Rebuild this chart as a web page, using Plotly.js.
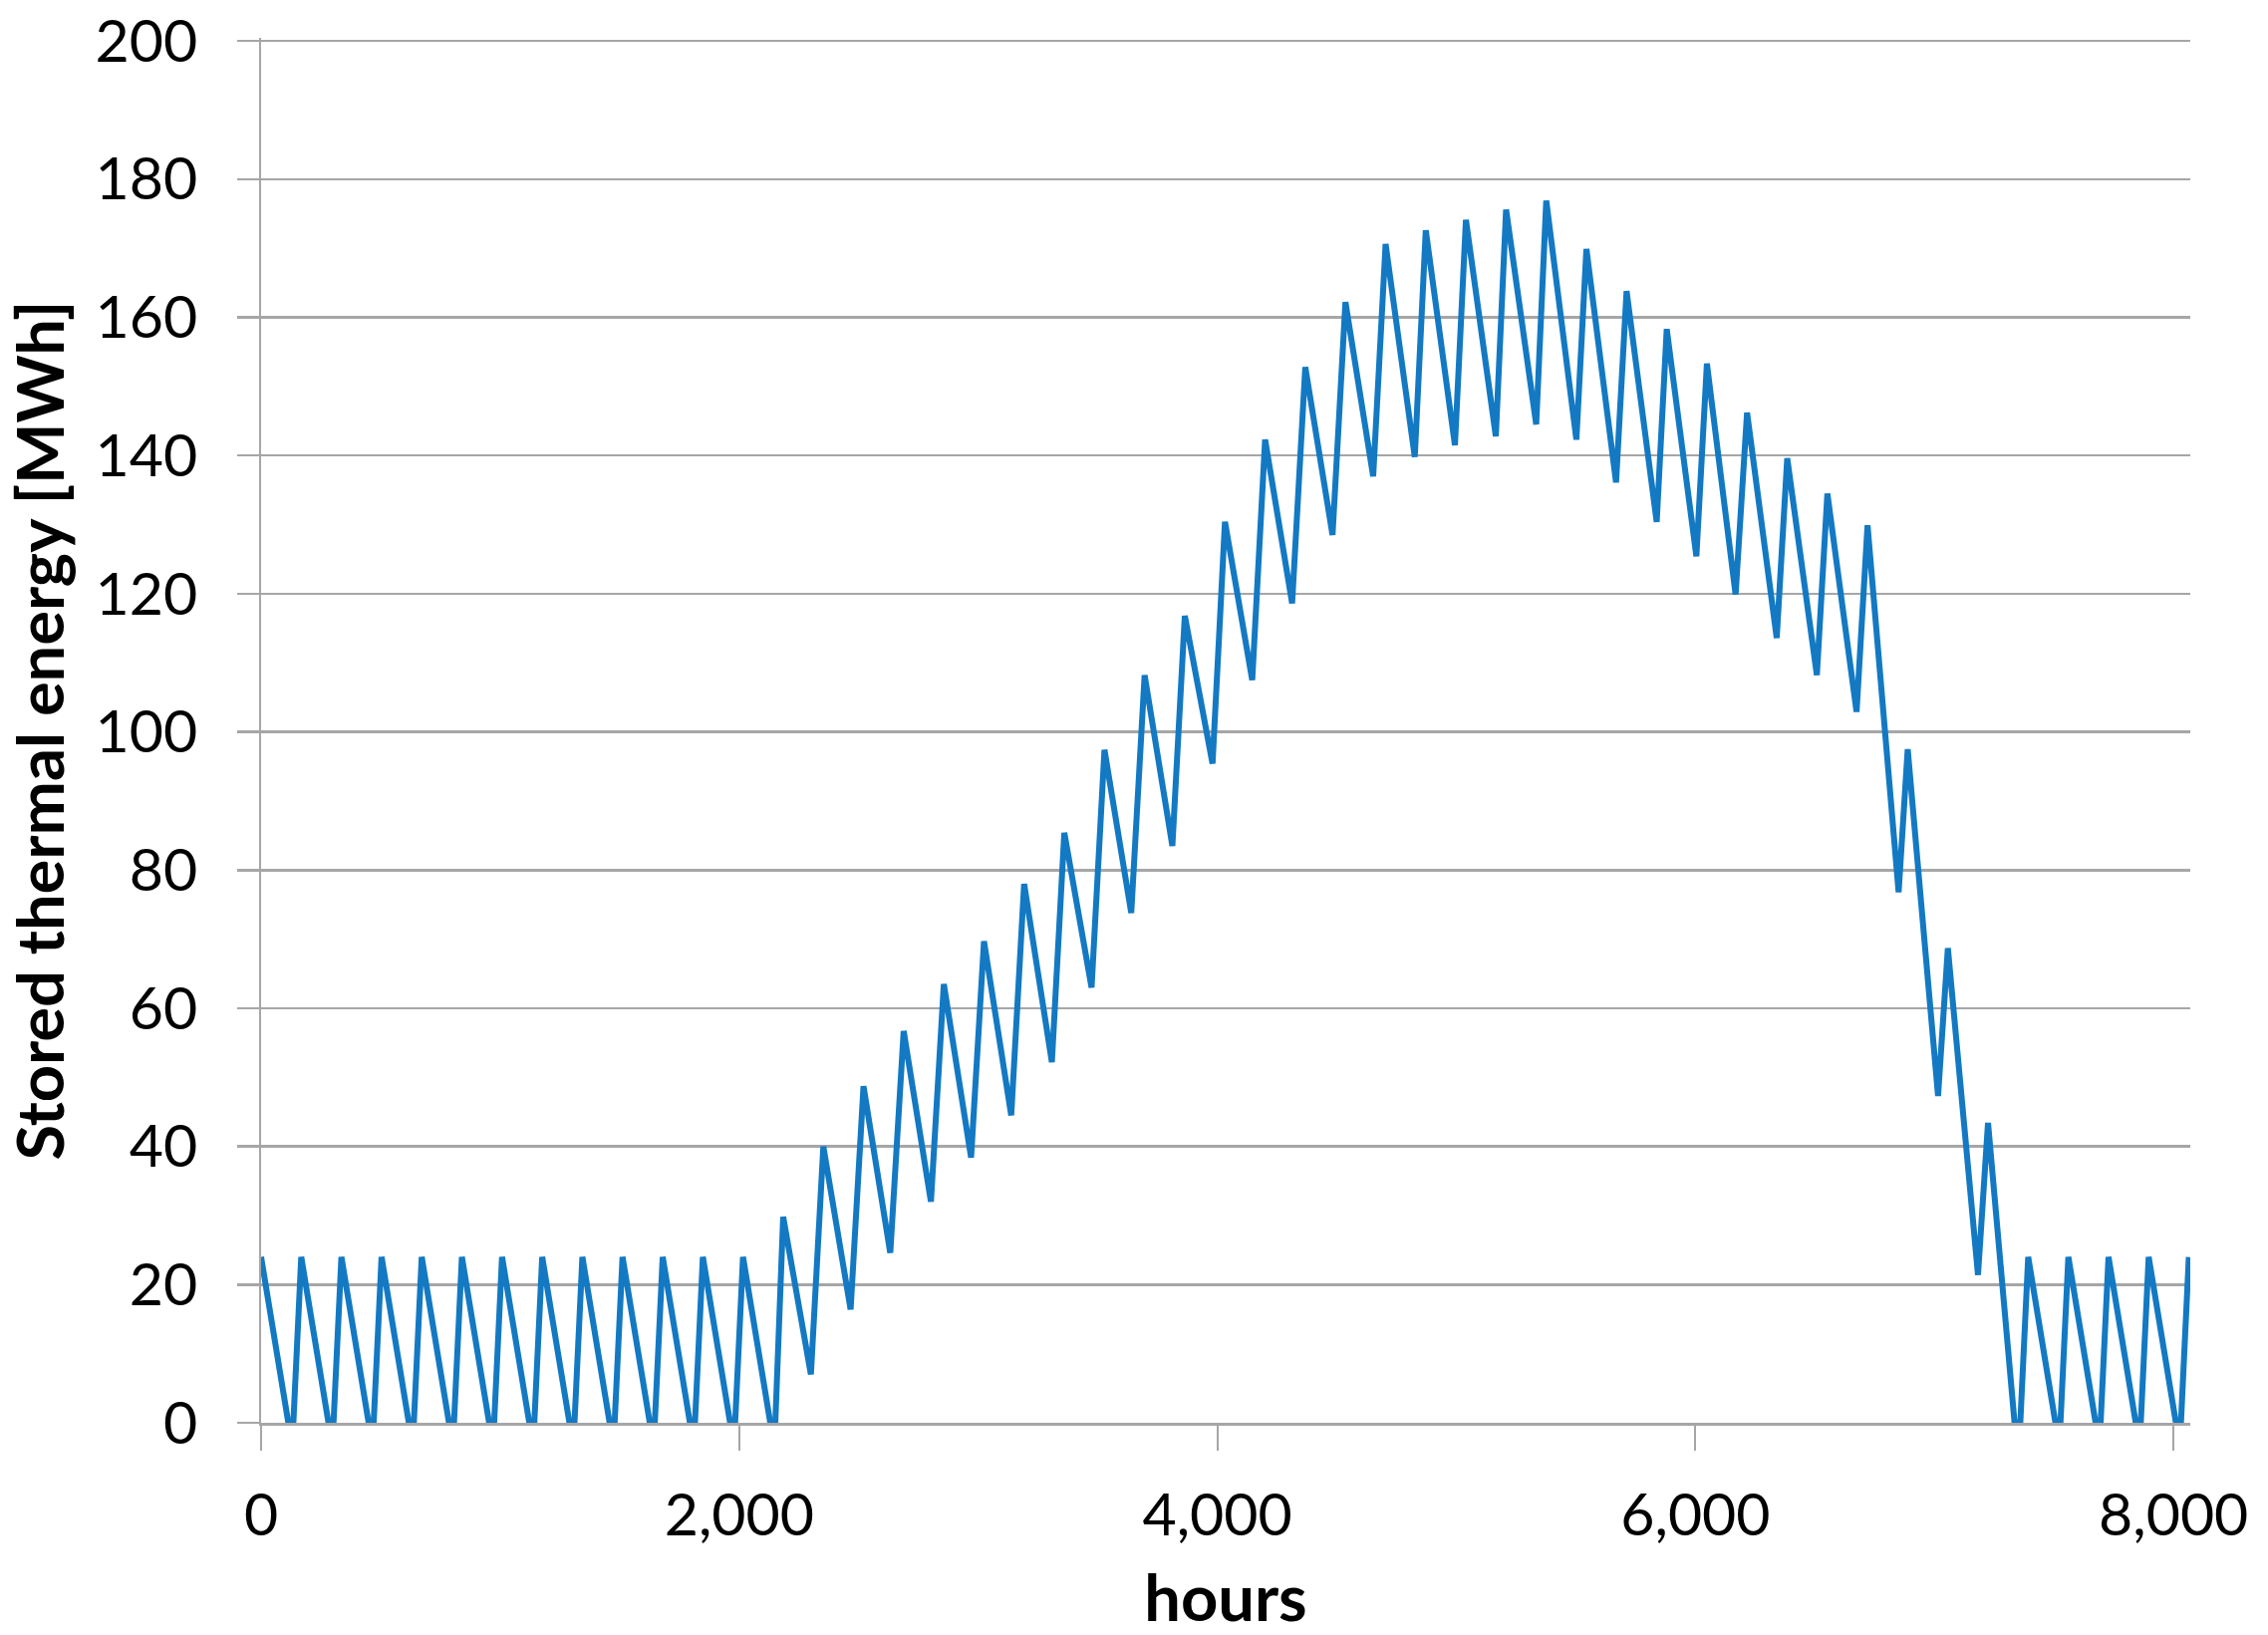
<!DOCTYPE html>
<html>
<head>
<meta charset="utf-8">
<script src="https://cdn.plot.ly/plotly-3.0.1.min.js"></script>
<style>
  html, body { margin: 0; padding: 0; background: #ffffff; }
  #chart { width: 2276px; height: 1641px; }
</style>
</head>
<body>
<div id="chart"></div>
<script>
// Vertices of the stored-energy curve (hour, MWh)
const hours = [
  0, 114, 135,
  168, 282, 303,
  336, 450, 471,
  504, 618, 639,
  672, 786, 807,
  840, 954, 975,
  1008, 1122, 1143,
  1176, 1290, 1311,
  1344, 1458, 1479,
  1512, 1626, 1647,
  1680, 1794, 1815,
  1848, 1962, 1983,
  2016, 2130, 2151,
  2184, 2300,
  2352, 2466,
  2520, 2632,
  2688, 2802,
  2856, 2970,
  3024, 3138,
  3192, 3308,
  3360, 3474,
  3528, 3640,
  3696, 3812,
  3864, 3980,
  4032, 4146,
  4200, 4313,
  4368, 4482,
  4536, 4652,
  4704, 4826,
  4872, 4994,
  5040, 5165,
  5208, 5334,
  5376, 5502,
  5544, 5668,
  5712, 5838,
  5880, 6004,
  6048, 6168,
  6216, 6340,
  6384, 6508,
  6552, 6674,
  6720, 6850,
  6888, 7015,
  7056, 7182,
  7224, 7335, 7359,
  7392, 7506, 7527,
  7560, 7674, 7695,
  7728, 7842, 7863,
  7896, 8010, 8031,
  8064
];
const storedMWh = [
  24, 0, 0,
  24, 0, 0,
  24, 0, 0,
  24, 0, 0,
  24, 0, 0,
  24, 0, 0,
  24, 0, 0,
  24, 0, 0,
  24, 0, 0,
  24, 0, 0,
  24, 0, 0,
  24, 0, 0,
  24, 0, 0,
  29.8, 7.0,
  40.0, 16.4,
  48.7, 24.6,
  56.7, 32.0,
  63.5, 38.4,
  69.7, 44.5,
  78.0, 52.2,
  85.4, 63.0,
  97.4, 73.8,
  108.2, 83.5,
  116.8, 95.4,
  130.4, 107.5,
  142.3, 118.6,
  152.8, 128.5,
  162.2, 137.0,
  170.6, 139.8,
  172.6, 141.5,
  174.1, 142.8,
  175.6, 144.5,
  176.9, 142.3,
  169.9, 136.1,
  163.8, 130.4,
  158.3, 125.4,
  153.3, 119.9,
  146.2, 113.6,
  139.6, 108.2,
  134.5, 102.9,
  129.9, 76.8,
  97.5, 47.3,
  68.7, 21.4,
  43.4, 0, 0,
  24, 0, 0,
  24, 0, 0,
  24, 0, 0,
  24, 0, 0,
  24
];
const xTicks = [0, 2000, 4000, 6000, 8000];
const yTicks = [0, 20, 40, 60, 80, 100, 120, 140, 160, 180, 200];
const xTitle = 'hours';
const yTitle = 'Stored thermal energy [MWh]';

const trace = {
  x: hours,
  y: storedMWh,
  type: 'scatter',
  mode: 'lines',
  line: { color: '#1379C3', width: 6 },
  hoverinfo: 'x+y'
};

const tickFont = { family: 'Lato, "Open Sans", sans-serif', size: 59, color: '#000000' };
const titleFont = { family: 'Lato, "Open Sans", sans-serif', size: 65, color: '#000000', weight: 'bold' };

const layout = {
  width: 2276,
  height: 1641,
  paper_bgcolor: '#ffffff',
  plot_bgcolor: '#ffffff',
  showlegend: false,
  margin: { l: 262, r: 78, t: 38, b: 213, pad: 0 },
  xaxis: {
    range: [0, 8070],
    tickmode: 'array',
    tickvals: xTicks,
    tickformat: ',d',
    showgrid: false,
    zeroline: false,
    showline: true,
    linecolor: '#a6a6a6',
    linewidth: 3,
    ticks: 'outside',
    ticklen: 25,
    tickwidth: 2,
    tickcolor: '#a6a6a6',
    tickfont: tickFont,
    ticklabelstandoff: 14,
    title: { text: xTitle, font: titleFont, standoff: 34 },
    automargin: false
  },
  yaxis: {
    range: [0, 200.45],
    tickmode: 'array',
    tickvals: yTicks,
    showgrid: true,
    gridcolor: '#a6a6a6',
    gridwidth: 2.5,
    zeroline: false,
    showline: true,
    linecolor: '#a6a6a6',
    linewidth: 2,
    ticks: 'outside',
    ticklen: 22,
    tickwidth: 2.5,
    tickcolor: '#a6a6a6',
    tickfont: tickFont,
    ticklabelstandoff: 28,
    title: { text: yTitle, font: titleFont, standoff: 22 },
    automargin: false
  }
};

Plotly.newPlot('chart', [trace], layout, { displayModeBar: false, staticPlot: true });
</script>
</body>
</html>
